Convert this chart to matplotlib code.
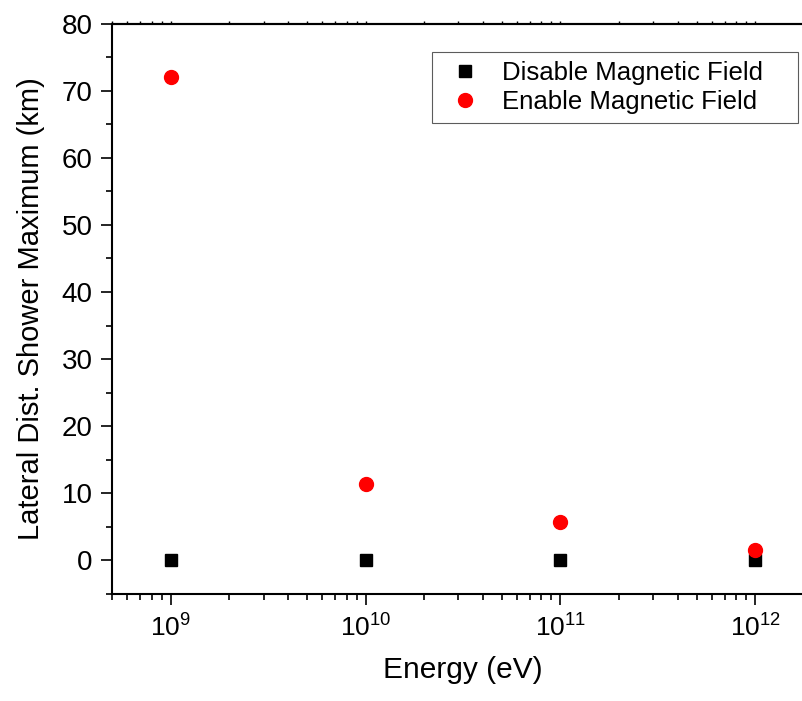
import numpy as np
import matplotlib.pyplot as plt
from matplotlib.ticker import LogLocator, NullFormatter, MultipleLocator

plt.rcParams['font.family'] = ['Liberation Sans', 'DejaVu Sans']
plt.rcParams['mathtext.default'] = 'regular'

# Data
energy = [1e9, 1e10, 1e11, 1e12]  # eV
dist_disabled = [0.0, 0.0, 0.0, 0.0]  # km
dist_enabled = [72.0, 11.4, 5.8, 1.6]  # km

fig = plt.figure(figsize=(8.03, 7.01), dpi=100)
ax = fig.add_axes([0.1395, 0.1526, 0.874, 0.8138])

ax.plot(energy, dist_disabled, 's', color='black', markersize=8.6,
        label='Disable Magnetic Field')
ax.plot(energy, dist_enabled, 'o', color='red', markersize=10,
        label='Enable Magnetic Field')

ax.set_xscale('log')
ax.set_xlim(5e8, 2e12)
ax.set_ylim(-5, 80)

ax.xaxis.set_minor_locator(LogLocator(base=10, subs=np.arange(2, 10), numticks=10))
ax.xaxis.set_minor_formatter(NullFormatter())
ax.set_xticks(energy)
ax.set_xticklabels([r'$10^{9}$', r'$10^{10}$', r'$10^{11}$', r'$10^{12}$'])
ax.yaxis.set_major_locator(MultipleLocator(10))
ax.yaxis.set_minor_locator(MultipleLocator(5))

for s in ax.spines.values():
    s.set_linewidth(1.5)

ax.tick_params(which='major', direction='out', length=8, width=1.2,
               labelsize=20, pad=6, top=False, right=False)
ax.tick_params(which='minor', direction='out', length=4.3, width=1.2,
               top=False, right=False)
ax.tick_params(axis='x', which='major', labelsize=19, pad=7)

# short ticks along the top edge
top = ax.secondary_xaxis('top')
top.set_xticks(energy)
top.xaxis.set_minor_locator(LogLocator(base=10, subs=np.arange(2, 10), numticks=10))
top.tick_params(which='both', direction='out', length=2, width=1.0,
                labeltop=False)
top.xaxis.set_minor_formatter(NullFormatter())
top.spines['top'].set_linewidth(1.5)

ax.set_xlabel('Energy (eV)', fontsize=21.5, labelpad=10)
ax.set_ylabel('Lateral Dist. Shower Maximum (km)', fontsize=21, labelpad=12)

# legend box spans a fixed region of the figure
x0, x1 = 431.7 / 803, 798 / 803
y1 = 1 - 51.7 / 701
leg = ax.legend(loc='upper left', bbox_to_anchor=(x0, y1 - 0.1, x1 - x0, 0.1),
                bbox_transform=fig.transFigure, borderaxespad=0, mode='expand',
                fontsize=18.5, frameon=True, fancybox=False,
                edgecolor='#333333', handletextpad=0.5, borderpad=0.35,
                labelspacing=0.2, handlelength=1.87)
leg.get_frame().set_linewidth(0.8)

plt.savefig('out.png', dpi=100)
